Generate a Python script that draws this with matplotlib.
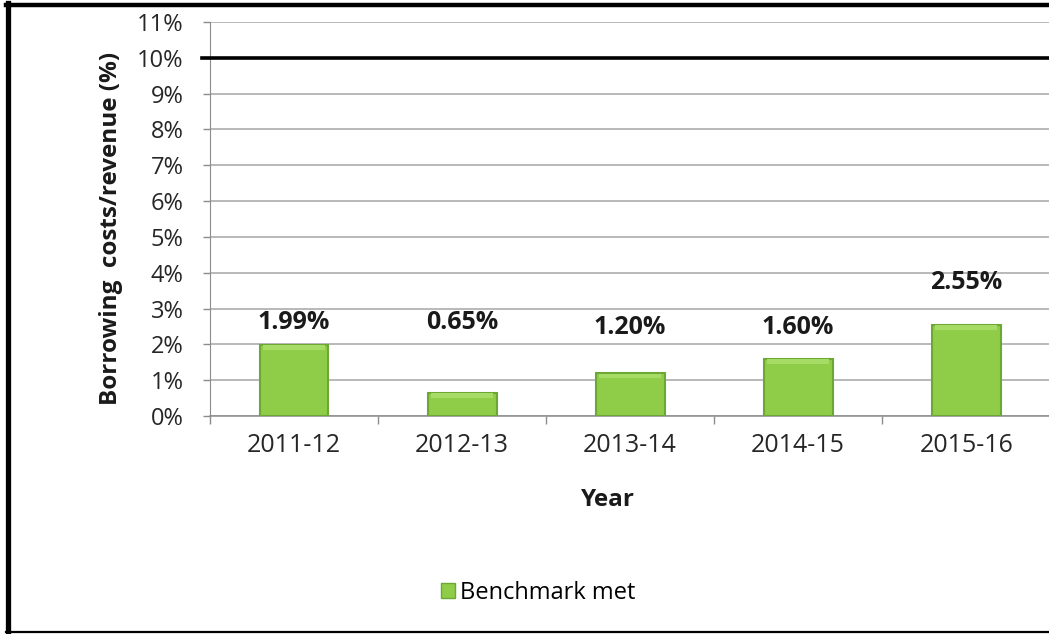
import matplotlib.pyplot as plt
from matplotlib.lines import Line2D
from matplotlib.patches import Patch

years = ["2011-12", "2012-13", "2013-14", "2014-15", "2015-16"]
ratio = [1.99, 0.65, 1.20, 1.60, 2.55]
value_labels = ["1.99%", "0.65%", "1.20%", "1.60%", "2.55%"]
label_y = [2.60, 2.60, 2.48, 2.48, 3.74]
benchmark = 10

plt.rcParams["font.family"] = ["Open Sans", "DejaVu Sans"]

fig = plt.figure(figsize=(10.49, 6.34), dpi=100)
ax = fig.add_axes([0.2002, 0.3438, 0.8010, 0.6215])

x = range(len(years))
ax.bar(x, ratio, width=0.41, color="#8fcd48", edgecolor="#6ea834",
       linewidth=1.5, zorder=3)
# lighter bevel strip along the top of each bar
ax.bar(x, [0.12] * len(ratio), bottom=[r - 0.14 for r in ratio], width=0.37,
       color="#a6dc66", linewidth=0, zorder=4)

for xi, txt, ly in zip(x, value_labels, label_y):
    ax.text(xi, ly, txt, ha="center", va="center", fontsize=18,
            fontweight="bold", color="#1a1a1a")

ax.axhline(benchmark, xmin=-0.009, xmax=1, color="black", lw=2.6,
           zorder=5, clip_on=False)

ax.set_xlim(-0.5, len(years) - 0.5)
ax.set_ylim(0, 11)
ax.set_yticks(range(0, 12))
ax.set_yticklabels([f"{v}%" for v in range(0, 12)])
ax.set_xticks([i - 0.5 for i in range(len(years))], minor=True)
ax.set_xticks(list(x))
ax.set_xticklabels(years)
ax.tick_params(axis="x", which="major", length=0, pad=12, labelsize=18,
               labelcolor="#262626")
ax.tick_params(axis="x", which="minor", length=6, width=1, color="#8c8c8c",
               direction="out")
ax.tick_params(axis="y", length=5, width=1, color="#8c8c8c", pad=14,
               labelsize=17, labelcolor="#262626")
ax.grid(axis="y", color="#a6a6a6", lw=1.1, zorder=0)
for side in ["top", "right"]:
    ax.spines[side].set_visible(False)
ax.spines["left"].set_color("#8c8c8c")
ax.spines["bottom"].set_color("#8c8c8c")
ax.spines["bottom"].set_linewidth(1.1)

ax.set_ylabel("Borrowing  costs/revenue (%)", fontsize=17.5,
              fontweight="bold", color="#1a1a1a")
ax.yaxis.set_label_coords(-0.103, 0.475)
fig.text(608 / 1049, 1 - 500 / 634, "Year", ha="center", va="center",
         fontsize=17.5, fontweight="bold", color="#1a1a1a")

fig.legend(handles=[Patch(facecolor="#8fcd48", edgecolor="#6ea834")],
           labels=["Benchmark met"], loc="center",
           bbox_to_anchor=(538 / 1049, 1 - 593 / 634), frameon=False,
           fontsize=17, handlelength=0.6, handleheight=0.6,
           handletextpad=0.2)

# black frame on the left, top and bottom
fig.add_artist(Line2D([8 / 1049, 8 / 1049], [0, 1 - 3 / 634],
                      transform=fig.transFigure, color="black", lw=3.8))
fig.add_artist(Line2D([6 / 1049, 1], [1 - 5 / 634, 1 - 5 / 634],
                      transform=fig.transFigure, color="black", lw=3.2))
fig.add_artist(Line2D([6 / 1049, 1], [2 / 634, 2 / 634],
                      transform=fig.transFigure, color="black", lw=1.6))

fig.savefig("out.png", dpi=100, facecolor="white")
